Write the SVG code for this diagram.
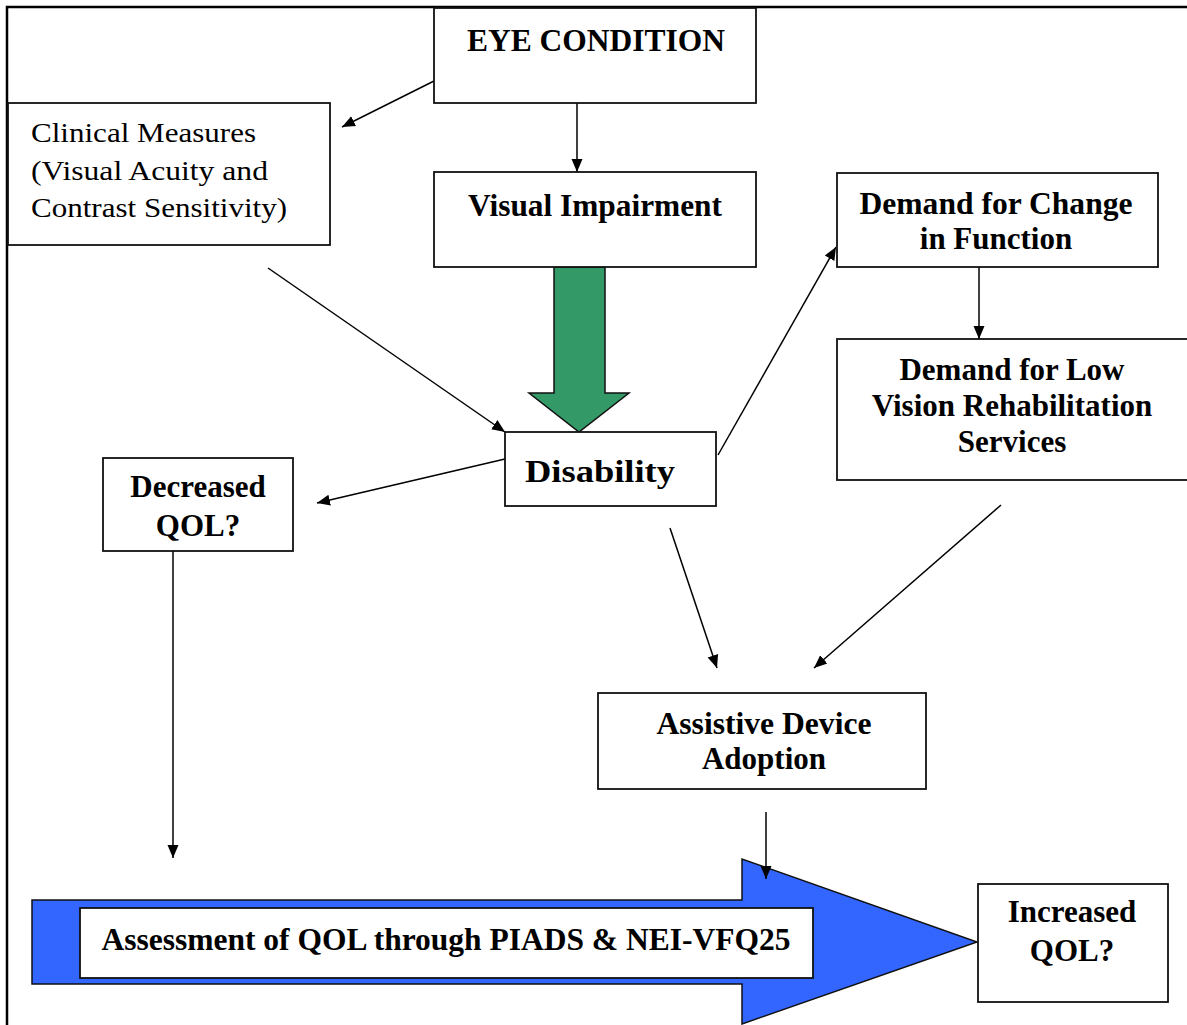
<svg xmlns="http://www.w3.org/2000/svg" width="1187" height="1025" viewBox="0 0 1187 1025">
<defs>
<marker id="ah" markerUnits="userSpaceOnUse" markerWidth="14" markerHeight="14" viewBox="0 0 14 14" refX="13" refY="7" orient="auto">
<path d="M0,1.5 L13,7 L0,12.5 Z" fill="#000"/>
</marker>
<style>
.box{fill:#fff;stroke:#111;stroke-width:1.8}
.t{font-family:"Liberation Serif","Times New Roman",serif;font-weight:bold;font-size:31px;fill:#000;text-anchor:middle}
.r{font-family:"Liberation Serif","Times New Roman",serif;font-size:28px;fill:#000}
.c{stroke:#000;stroke-width:1.5;fill:none;marker-end:url(#ah)}
</style>
</defs>
<rect width="1187" height="1025" fill="#fff"/>
<g id="frame">
<path d="M7,1025 L7,7 L1187,7" fill="none" stroke="#000" stroke-width="2.5"/>
</g>

<g id="qol-arrow">
<polygon points="32,900 742,900 742,859 977,942 742,1024 742,984 32,984" fill="#3366FF" stroke="#111" stroke-width="1.5"/>
<rect x="80" y="908" width="733" height="70" class="box"/>
<text class="t" x="446" y="950" font-size="29" textLength="689" lengthAdjust="spacingAndGlyphs">Assessment of QOL through PIADS &amp; NEI-VFQ25</text>
</g>

<g id="green-arrow">
<polygon points="554,267 605,267 605,393 629,393 579,432 529,393 554,393" fill="#339966" stroke="#111" stroke-width="1.5"/>
</g>

<g id="connectors">
<line class="c" x1="434" y1="81" x2="342" y2="127"/>
<line class="c" x1="577" y1="103" x2="577" y2="172"/>
<line class="c" x1="268" y1="268" x2="505" y2="432"/>
<line class="c" x1="505" y1="459" x2="317" y2="503"/>
<line class="c" x1="718" y1="455" x2="836" y2="247"/>
<line class="c" x1="979" y1="267" x2="979" y2="339"/>
<line class="c" x1="670" y1="528" x2="717" y2="668"/>
<line class="c" x1="1001" y1="505" x2="814" y2="668"/>
<line class="c" x1="766" y1="812" x2="766" y2="879"/>
<line class="c" x1="173" y1="551" x2="173" y2="858"/>
</g>

<g id="eye-condition">
<rect x="434" y="8" width="322" height="95" class="box"/>
<text class="t" x="596" y="51" textLength="258" lengthAdjust="spacingAndGlyphs">EYE CONDITION</text>
</g>

<g id="clinical-measures">
<rect x="8" y="103" width="322" height="142" class="box"/>
<text class="r" x="31" y="142" textLength="225" lengthAdjust="spacingAndGlyphs">Clinical Measures</text>
<text class="r" x="31" y="180" textLength="237" lengthAdjust="spacingAndGlyphs">(Visual Acuity and</text>
<text class="r" x="31" y="217" textLength="256" lengthAdjust="spacingAndGlyphs">Contrast Sensitivity)</text>
</g>

<g id="visual-impairment">
<rect x="434" y="172" width="322" height="95" class="box"/>
<text class="t" x="595" y="216" textLength="254" lengthAdjust="spacingAndGlyphs">Visual Impairment</text>
</g>

<g id="demand-change">
<rect x="837" y="173" width="321" height="94" class="box"/>
<text class="t" x="996" y="214" textLength="273" lengthAdjust="spacingAndGlyphs">Demand for Change</text>
<text class="t" x="996" y="249">in Function</text>
</g>

<g id="demand-low-vision">
<rect x="837" y="339" width="360" height="141" class="box"/>
<text class="t" x="1012" y="380">Demand for Low</text>
<text class="t" x="1012" y="416">Vision Rehabilitation</text>
<text class="t" x="1012" y="452">Services</text>
</g>

<g id="disability">
<rect x="505" y="432" width="211" height="74" class="box"/>
<text class="t" x="600" y="482" font-size="36" textLength="150" lengthAdjust="spacingAndGlyphs">Disability</text>
</g>

<g id="decreased-qol">
<rect x="103" y="458" width="190" height="93" class="box"/>
<text class="t" x="198" y="497">Decreased</text>
<text class="t" x="198" y="536">QOL?</text>
</g>

<g id="assistive-device">
<rect x="598" y="693" width="328" height="96" class="box"/>
<text class="t" x="764" y="734" textLength="215" lengthAdjust="spacingAndGlyphs">Assistive Device</text>
<text class="t" x="764" y="769">Adoption</text>
</g>

<g id="increased-qol">
<rect x="978" y="884" width="190" height="118" class="box"/>
<text class="t" x="1072" y="922">Increased</text>
<text class="t" x="1072" y="961">QOL?</text>
</g>
</svg>
